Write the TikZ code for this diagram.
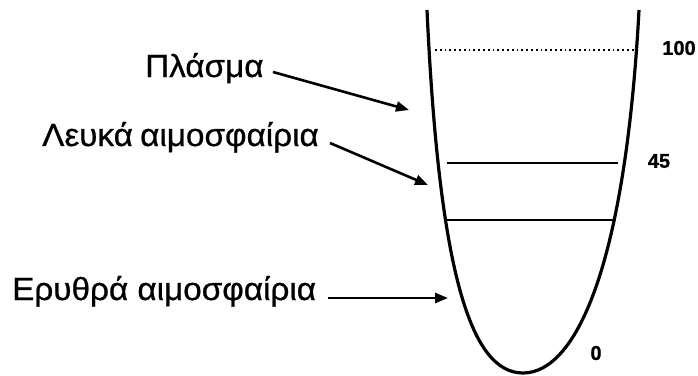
\documentclass[tikz,border=0pt]{standalone}
\usepackage{fontspec}
\usetikzlibrary{arrows.meta}
\newfontfamily\lblfont[FakeStretch=1.04,FakeBold=0.7]{Liberation Sans}
\newfontfamily\numfont[FakeBold=0.9]{Liberation Sans}
\begin{document}
\begin{tikzpicture}[x=1pt,y=-1pt,
  lbl/.style={anchor=base west,inner sep=0pt,font=\lblfont\fontsize{32}{36}\selectfont},
  num/.style={inner sep=0pt,font=\numfont\bfseries\fontsize{20}{24}\selectfont},
  pointer/.style={line width=2.6pt,-{Triangle[length=13pt,width=10pt]}},
  wall/.style={line width=3.2pt,line join=round},
  level/.style={line width=1.4pt}]
\useasboundingbox (0,0) rectangle (698,375);

% test tube outline
\draw[wall] (427,10) .. controls (439,270) and (470,373) .. (523,373)
            .. controls (575,373) and (625,270) .. (639,10);

% layer boundaries
\coordinate (p100l) at (435,50);  \coordinate (p100r) at (634,50);
\coordinate (p45l)  at (447,163); \coordinate (p45r)  at (618,163);
\coordinate (pbl)   at (445,220); \coordinate (pbr)   at (616,220);
\draw[line width=1.3pt,dash pattern=on 1.8pt off 3pt] (p100l) -- (p100r);
\draw[level] (p45l) -- (p45r);
\draw[level] (pbl) -- (pbr);

% scale values
\node[num] (n100) at (679,48) {100};
\node[num] (n45)  at (659,161) {45};
\node[num] (n0)   at (596,353) {0};

% component labels
\node[lbl] (plasma) at (145,77)  {Πλάσμα};
\node[lbl] (white)  at (42,146)  {Λευκά\hspace{-2pt} αιμοσφαίρια};
\node[lbl] (red)    at (12,300)  {Ερυθρά αιμοσφαίρια};

\coordinate (plasmaS) at (273,72);  \coordinate (plasmaT) at (409,110);
\coordinate (whiteS)  at (330,143); \coordinate (whiteT)  at (428,185);
\coordinate (redS)    at (328,298); \coordinate (redT)    at (448,298);
\draw[pointer] (plasmaS) -- (plasmaT);
\draw[pointer] (whiteS) -- (whiteT);
\draw[pointer] (redS) -- (redT);
\end{tikzpicture}
\end{document}
